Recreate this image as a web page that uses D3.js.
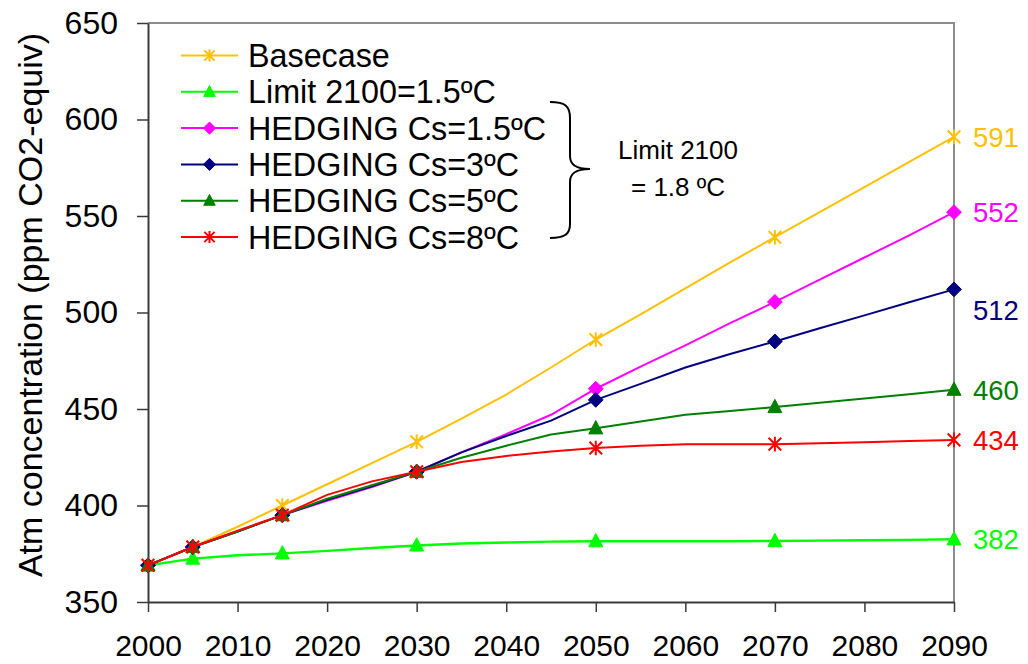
<!DOCTYPE html>
<html>
<head>
<meta charset="utf-8">
<script src="https://cdn.jsdelivr.net/npm/d3@7"></script>
<style>
  html, body { margin: 0; padding: 0; background: #fff; }
  svg { display: block; font-family: "Liberation Sans", Arial, sans-serif; }
</style>
</head>
<body>
<svg id="chart" width="1028" height="664"></svg>
<script>
// Years sampled every five years
const years = [2000, 2005, 2010, 2015, 2020, 2025, 2030, 2035, 2040, 2045,
               2050, 2055, 2060, 2065, 2070, 2075, 2080, 2085, 2090];
// Years that carry a marker symbol
const markerYears = [2000, 2005, 2015, 2030, 2050, 2070, 2090];

// Atmospheric concentration, ppm CO2-equivalent
const basecase = [369, 378.5, 389, 400, 411, 422, 433, 445, 457.5, 471.5,
                  486, 499, 512.5, 526, 539, 552, 565, 578, 591];
const limit15 = [369, 372.5, 374.2, 375.2, 376.5, 378, 379.3, 380.3, 380.8, 381.3,
                 381.5, 381.5, 381.5, 381.5, 381.6, 381.8, 382, 382.2, 382.5];
const hedge15 = [369, 378.5, 386.5, 395, 402.5, 409.5, 417.5, 427.5, 437, 447,
                 460.5, 472, 483, 494.5, 505.5, 517, 528.5, 540, 552];
const hedge3 = [369, 378.5, 386.5, 395, 403, 410, 417.5, 427.5, 436, 444,
                454.7, 463, 471.5, 478.5, 485, 491.8, 498.5, 505.3, 512];
const hedge5 = [369, 378.5, 386.5, 395, 403.5, 410.5, 417.5, 424.7, 431, 436.8,
                440, 443.5, 447, 449, 451, 453.2, 455.4, 457.7, 460];
const hedge8 = [369, 378.5, 387, 395, 405.5, 412.5, 417.5, 422.5, 425.7, 428,
                429.8, 431, 431.7, 431.7, 431.8, 432.3, 432.8, 433.4, 434];

const seriesNames = ["Basecase", "Limit 2100=1.5ºC", "HEDGING Cs=1.5ºC",
                     "HEDGING Cs=3ºC", "HEDGING Cs=5ºC", "HEDGING Cs=8ºC"];
const seriesValues = [basecase, limit15, hedge15, hedge3, hedge5, hedge8];
const seriesColors = ["#FFC000", "#00FF00", "#FF00FF", "#000080", "#008000", "#FF0000"];
const seriesMarkers = ["star", "triangle", "diamond", "diamond", "triangle", "star"];
// End-of-period value labels
const endLabels = ["591", "382", "552", "512", "460", "434"];

const yTicks = [350, 400, 450, 500, 550, 600, 650];
const xTicks = [2000, 2010, 2020, 2030, 2040, 2050, 2060, 2070, 2080, 2090];

const yTitle = "Atm concentration (ppm CO2-equiv)";
const noteLines = ["Limit 2100", "= 1.8 ºC"];

// ---- layout ----
const plot = { left: 148, right: 954, top: 23, bottom: 602 };
const svg = d3.select("#chart");

const x = d3.scaleLinear().domain([2000, 2090]).range([plot.left, plot.right]);
const y = d3.scaleLinear().domain([350, 650]).range([plot.bottom, plot.top]);

// plot-area frame (top and right edges)
svg.append("path")
  .attr("d", `M${plot.left},${plot.top}H${plot.right}V${plot.bottom}`)
  .attr("fill", "none").attr("stroke", "#8c8c8c").attr("stroke-width", 2);

// axes
const yAxis = svg.append("g")
  .attr("transform", `translate(${plot.left},0)`)
  .call(d3.axisLeft(y).tickValues(yTicks).tickSize(11).tickPadding(19).tickSizeOuter(0));
const xAxis = svg.append("g")
  .attr("transform", `translate(0,${plot.bottom})`)
  .call(d3.axisBottom(x).tickValues(xTicks).tickFormat(d3.format("d"))
        .tickSize(10).tickPadding(23).tickSizeOuter(0));

[yAxis, xAxis].forEach(g => {
  g.select(".domain").attr("stroke", "#3a3a3a").attr("stroke-width", 2);
  g.selectAll(".tick line").attr("stroke", "#3a3a3a").attr("stroke-width", 1.5);
  g.selectAll("text").attr("fill", "#000")
    .style("font-family", '"Liberation Sans", Arial, sans-serif');
});
yAxis.selectAll("text").style("font-size", "32px");
xAxis.selectAll("text").style("font-size", "30px");

// y-axis title
svg.append("text")
  .attr("transform", "translate(42,305) rotate(-90)")
  .attr("text-anchor", "middle")
  .style("font-size", "34px")
  .text(yTitle);

// marker shapes
function markerPath(kind, s) {
  if (kind === "star") {
    const a = 6.3 * s, b = 7.3 * s;
    return `M${-a},${-a}L${a},${a}M${-a},${a}L${a},${-a}M0,${-b}L0,${b}`;
  }
  if (kind === "diamond") {
    const r = 7.4 * s;
    return `M0,${-r}L${r},0L0,${r}L${-r},0Z`;
  }
  const w = 7 * s, t = 7.7 * s, bt = 5.6 * s;
  return `M0,${-t}L${w},${bt}L${-w},${bt}Z`;
}
function drawMarker(g, kind, color, cx, cy, s) {
  const p = g.append("path")
    .attr("transform", `translate(${cx},${cy})`)
    .attr("d", markerPath(kind, s));
  if (kind === "star") {
    p.attr("fill", "none").attr("stroke", color).attr("stroke-width", 2);
  } else {
    p.attr("fill", color).attr("stroke", color).attr("stroke-width", 1);
  }
}

// series lines and markers
const line = d3.line().x(d => x(d[0])).y(d => y(d[1]));
seriesValues.forEach((vals, i) => {
  const g = svg.append("g");
  const pts = years.map((yr, k) => [yr, vals[k]]);
  g.append("path")
    .attr("d", line(pts))
    .attr("fill", "none")
    .attr("stroke", seriesColors[i])
    .attr("stroke-width", i === 1 ? 2.4 : 2)
    .attr("stroke-linejoin", "round");
  pts.filter(p => markerYears.includes(p[0])).forEach(p => {
    drawMarker(g, seriesMarkers[i], seriesColors[i], x(p[0]), y(p[1]), 1);
  });
});

// value labels at the last year
seriesValues.forEach((vals, i) => {
  const last = vals[vals.length - 1];
  const nudge = i === 3 ? 21 : 0;
  svg.append("text")
    .attr("x", 973)
    .attr("y", y(last) + nudge)
    .attr("dy", "0.36em")
    .attr("fill", seriesColors[i])
    .style("font-size", "27.5px")
    .text(endLabels[i]);
});

// legend
const legend = svg.append("g");
seriesNames.forEach((name, i) => {
  const cy = 55.5 + i * 36.3;
  legend.append("line")
    .attr("x1", 181).attr("x2", 238).attr("y1", cy).attr("y2", cy)
    .attr("stroke", seriesColors[i]).attr("stroke-width", 2);
  drawMarker(legend, seriesMarkers[i], seriesColors[i], 209.5, cy, 0.82);
  legend.append("text")
    .attr("x", 248).attr("y", cy + 11.5)
    .style("font-size", "32.3px")
    .text(name);
});

// brace grouping the hedging runs, with its note
svg.append("path")
  .attr("d", "M550,102C565,102 570,106 570,118L570,156C570,165 576,169 590,169" +
             "C576,169 570,173 570,182L570,224C570,234 565,238 550,238")
  .attr("fill", "none").attr("stroke", "#000").attr("stroke-width", 2);
noteLines.forEach((t, i) => {
  svg.append("text")
    .attr("x", 678).attr("y", 159 + i * 36.5)
    .attr("text-anchor", "middle")
    .style("font-size", "26px")
    .text(t);
});
</script>
</body>
</html>
